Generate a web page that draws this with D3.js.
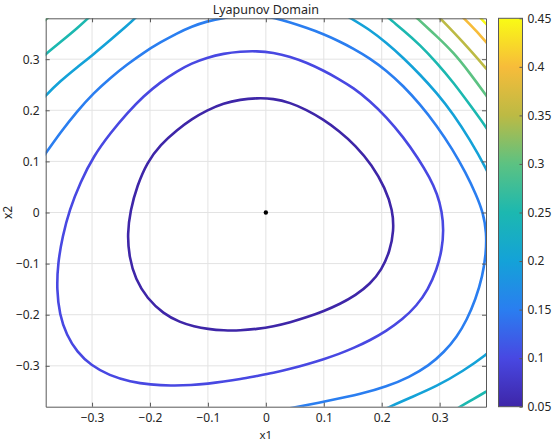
<html>
<head>
<meta charset="utf-8">
<script src="https://d3js.org/d3.v7.min.js"></script>
<style>
  body { margin: 0; background: #fff; }
  text { font-family: "Noto Sans", "DejaVu Sans", sans-serif; fill: #262626; }
</style>
</head>
<body>
<svg width="552" height="442"></svg>

<script>
// contour levels and ticks
var levels = [0.05, 0.1, 0.15, 0.2, 0.25, 0.3, 0.35, 0.4, 0.45];
var cbTicks = [0.05, 0.1, 0.15, 0.2, 0.25, 0.3, 0.35, 0.4, 0.45];
var xTicks = [-0.3, -0.2, -0.1, 0, 0.1, 0.2, 0.3];
var yTicks = [-0.3, -0.2, -0.1, 0, 0.1, 0.2, 0.3];
var equilibrium = [[0, 0]];

// contour lines, [x1, x2]
var c05 = [[0.013,0.223],[-0.016,0.224],[-0.044,0.221],[-0.073,0.214],[-0.102,0.200],[-0.128,0.183],[-0.153,0.162],[-0.182,0.133],[-0.205,0.098],[-0.222,0.053],[-0.234,0.004],[-0.239,-0.042],[-0.236,-0.087],[-0.225,-0.131],[-0.205,-0.168],[-0.177,-0.198],[-0.148,-0.215],[-0.124,-0.223],[-0.100,-0.228],[-0.073,-0.231],[-0.044,-0.231],[-0.016,-0.228],[0.013,-0.223],[0.042,-0.215],[0.071,-0.205],[0.100,-0.193],[0.128,-0.179],[0.155,-0.162],[0.180,-0.140],[0.200,-0.112],[0.214,-0.076],[0.221,-0.036],[0.219,0.004],[0.206,0.048],[0.183,0.093],[0.155,0.131],[0.126,0.160],[0.098,0.183],[0.070,0.201],[0.042,0.215]];

var c10 = [[-0.016,0.316],[-0.044,0.315],[-0.073,0.311],[-0.102,0.303],[-0.128,0.292],[-0.153,0.277],[-0.182,0.255],[-0.211,0.228],[-0.239,0.195],[-0.268,0.156],[-0.297,0.111],[-0.320,0.060],[-0.339,0.005],[-0.351,-0.047],[-0.359,-0.099],[-0.361,-0.151],[-0.356,-0.200],[-0.344,-0.240],[-0.326,-0.273],[-0.302,-0.299],[-0.270,-0.319],[-0.234,-0.331],[-0.199,-0.337],[-0.164,-0.339],[-0.128,-0.338],[-0.100,-0.335],[-0.073,-0.331],[-0.044,-0.326],[-0.016,-0.320],[0.013,-0.314],[0.042,-0.306],[0.071,-0.297],[0.100,-0.287],[0.126,-0.277],[0.152,-0.265],[0.180,-0.250],[0.208,-0.232],[0.236,-0.209],[0.260,-0.183],[0.280,-0.151],[0.295,-0.112],[0.304,-0.073],[0.307,-0.034],[0.304,0.002],[0.296,0.036],[0.283,0.068],[0.263,0.106],[0.237,0.148],[0.208,0.187],[0.179,0.219],[0.151,0.244],[0.125,0.262],[0.099,0.278],[0.071,0.293],[0.042,0.305],[0.013,0.313]];

var c15 = [[-0.400,0.085],[-0.381,0.114],[-0.355,0.156],[-0.326,0.198],[-0.297,0.234],[-0.268,0.264],[-0.239,0.290],[-0.211,0.313],[-0.182,0.333],[-0.153,0.351],[-0.128,0.364],[-0.102,0.374],[-0.073,0.381],[-0.035,0.387],[0.000,0.384],[0.013,0.381],[0.042,0.372],[0.071,0.361],[0.100,0.349],[0.125,0.336],[0.151,0.321],[0.179,0.302],[0.208,0.278],[0.237,0.248],[0.266,0.212],[0.295,0.170],[0.322,0.124],[0.345,0.078],[0.363,0.035],[0.375,0.000],[0.381,-0.040],[0.380,-0.080],[0.374,-0.125],[0.362,-0.170],[0.347,-0.210],[0.330,-0.243],[0.308,-0.273],[0.281,-0.300],[0.248,-0.322],[0.208,-0.341],[0.165,-0.355],[0.110,-0.368],[0.052,-0.381],[0.000,-0.392]];

var c20a = [[-0.400,0.205],[-0.381,0.228],[-0.355,0.257],[-0.326,0.284],[-0.297,0.310],[-0.268,0.338],[-0.239,0.366],[-0.225,0.381],[-0.210,0.398]];
var c20b = [[0.120,0.398],[0.145,0.381],[0.179,0.358],[0.208,0.332],[0.237,0.303],[0.266,0.270],[0.295,0.234],[0.324,0.192],[0.352,0.143],[0.381,0.085],[0.395,0.050]];
var c20c = [[0.190,-0.393],[0.214,-0.380],[0.248,-0.363],[0.295,-0.340],[0.341,-0.310],[0.381,-0.278],[0.398,-0.260]];

var c25a = [[-0.400,0.290],[-0.381,0.309],[-0.355,0.333],[-0.326,0.360],[-0.306,0.381],[-0.290,0.398]];
var c25b = [[0.195,0.398],[0.211,0.381],[0.237,0.357],[0.266,0.328],[0.295,0.293],[0.324,0.254],[0.352,0.211],[0.381,0.166],[0.398,0.135]];
var c25c = [[0.318,-0.393],[0.335,-0.380],[0.357,-0.366],[0.381,-0.350],[0.398,-0.338]];

var c30a = [[-0.395,0.365],[-0.378,0.379],[-0.362,0.395]];
var c30b = [[0.245,0.398],[0.260,0.381],[0.295,0.345],[0.324,0.313],[0.352,0.273],[0.381,0.228],[0.395,0.205]];

var c35 = [[0.285,0.398],[0.300,0.381],[0.341,0.333],[0.381,0.281],[0.395,0.262]];
var c40 = [[0.325,0.398],[0.341,0.381],[0.362,0.357],[0.381,0.332],[0.395,0.315]];
var c45 = [[0.357,0.398],[0.370,0.381],[0.381,0.368],[0.395,0.352]];

// parula-like colours for each level
var parulaStops = ["#3e26a8", "#4848e2", "#2a7ef0", "#14a2d8", "#1cb8b0", "#5cc282", "#bcba44", "#f7bc3a", "#f9fb15"];

var segments = [
  {level: 0.05, pts: c05, closed: true},
  {level: 0.1, pts: c10, closed: true},
  {level: 0.15, pts: c15},
  {level: 0.2, pts: c20a}, {level: 0.2, pts: c20b}, {level: 0.2, pts: c20c},
  {level: 0.25, pts: c25a}, {level: 0.25, pts: c25b}, {level: 0.25, pts: c25c},
  {level: 0.3, pts: c30a}, {level: 0.3, pts: c30b},
  {level: 0.35, pts: c35},
  {level: 0.4, pts: c40},
  {level: 0.45, pts: c45}
];

var pLeft = 45.7, pRight = 486, pTop = 18.3, pBottom = 406.7;
var cbLeft = 498.5, cbRight = 522.5;

var x = d3.scaleLinear().domain([-0.38, 0.38]).range([pLeft, pRight]);
var y = d3.scaleLinear().domain([-0.38, 0.38]).range([pBottom, pTop]);
var cy = d3.scaleLinear().domain([0.05, 0.45]).range([pBottom, pTop]);
var color = d3.scaleLinear().domain(levels).range(parulaStops).interpolate(d3.interpolateRgb);

var svg = d3.select("svg");

svg.append("defs").append("clipPath").attr("id", "plotclip")
  .append("rect")
  .attr("x", pLeft).attr("y", pTop)
  .attr("width", pRight - pLeft).attr("height", pBottom - pTop);

// grid
var grid = svg.append("g").attr("stroke", "#e3e3e3").attr("stroke-width", 1);
grid.selectAll(".gx").data(xTicks).enter().append("line")
  .attr("x1", function(d) { return x(d); }).attr("x2", function(d) { return x(d); })
  .attr("y1", pTop).attr("y2", pBottom);
grid.selectAll(".gy").data(yTicks).enter().append("line")
  .attr("y1", function(d) { return y(d); }).attr("y2", function(d) { return y(d); })
  .attr("x1", pLeft).attr("x2", pRight);

// contours (B-spline through the traced points smooths reading noise)
var lineOpen = d3.line()
  .x(function(d) { return x(d[0]); })
  .y(function(d) { return y(d[1]); })
  .curve(d3.curveBasis);
var lineClosed = d3.line()
  .x(function(d) { return x(d[0]); })
  .y(function(d) { return y(d[1]); })
  .curve(d3.curveBasisClosed);

svg.append("g").attr("clip-path", "url(#plotclip)")
  .selectAll("path")
  .data(segments)
  .enter()
  .append("path")
  .attr("d", function(d) { return d.closed ? lineClosed(d.pts) : lineOpen(d.pts); })
  .attr("fill", "none")
  .attr("stroke", function(d) { return color(d.level); })
  .attr("stroke-width", 2.6)
  .attr("stroke-linejoin", "round");

// equilibrium point
svg.append("g").selectAll("circle")
  .data(equilibrium)
  .enter()
  .append("circle")
  .attr("cx", function(d) { return x(d[0]); })
  .attr("cy", function(d) { return y(d[1]); })
  .attr("r", 2.2)
  .attr("fill", "#000");

// axes (ticks inside, box on)
var fmt = d3.format("~g");
function styleAxis(g) {
  g.selectAll(".domain").attr("stroke", "#595959");
  g.selectAll(".tick line").attr("stroke", "#595959");
  g.selectAll("text").style("font-size", "12px").attr("fill", "#262626");
}

svg.append("g").attr("transform", "translate(0," + pBottom + ")")
  .call(d3.axisBottom(x).tickValues(xTicks).tickSizeInner(-4).tickSizeOuter(0).tickPadding(7).tickFormat(fmt))
  .call(styleAxis);
svg.append("g").attr("transform", "translate(" + pLeft + ",0)")
  .call(d3.axisLeft(y).tickValues(yTicks).tickSizeInner(-4).tickSizeOuter(0).tickPadding(6).tickFormat(fmt))
  .call(styleAxis);
svg.append("g").attr("transform", "translate(0," + pTop + ")")
  .call(d3.axisTop(x).tickValues(xTicks).tickSizeInner(-4).tickSizeOuter(0).tickFormat(""))
  .call(styleAxis);
svg.append("g").attr("transform", "translate(" + pRight + ",0)")
  .call(d3.axisRight(y).tickValues(yTicks).tickSizeInner(-4).tickSizeOuter(0).tickFormat(""))
  .call(styleAxis);

// title and labels
svg.append("text")
  .attr("x", (pLeft + pRight) / 2).attr("y", 14)
  .attr("text-anchor", "middle")
  .style("font-size", "12.5px")
  .text("Lyapunov Domain");

svg.append("text")
  .attr("x", (pLeft + pRight) / 2).attr("y", 438.5)
  .attr("text-anchor", "middle")
  .style("font-size", "11.5px")
  .text("x1");

svg.append("text")
  .attr("transform", "translate(12," + ((pTop + pBottom) / 2) + ") rotate(-90)")
  .attr("text-anchor", "middle")
  .style("font-size", "12px")
  .text("x2");

// colorbar
var grad = svg.select("defs").append("linearGradient")
  .attr("id", "cbgrad")
  .attr("x1", 0).attr("y1", 1).attr("x2", 0).attr("y2", 0);
grad.selectAll("stop")
  .data(levels)
  .enter()
  .append("stop")
  .attr("offset", function(d, i) { return i / (levels.length - 1); })
  .attr("stop-color", function(d) { return color(d); });

svg.append("rect")
  .attr("x", cbLeft).attr("y", pTop)
  .attr("width", cbRight - cbLeft).attr("height", pBottom - pTop)
  .attr("fill", "url(#cbgrad)")
  .attr("stroke", "#595959").attr("stroke-width", 1);

svg.append("g").attr("transform", "translate(" + cbRight + ",0)")
  .call(d3.axisRight(cy).tickValues(cbTicks).tickSizeInner(-3).tickSizeOuter(0).tickPadding(5).tickFormat(d3.format(".2~f")))
  .call(styleAxis)
  .call(function(g) { g.select(".domain").remove(); });
</script>
</body>
</html>
